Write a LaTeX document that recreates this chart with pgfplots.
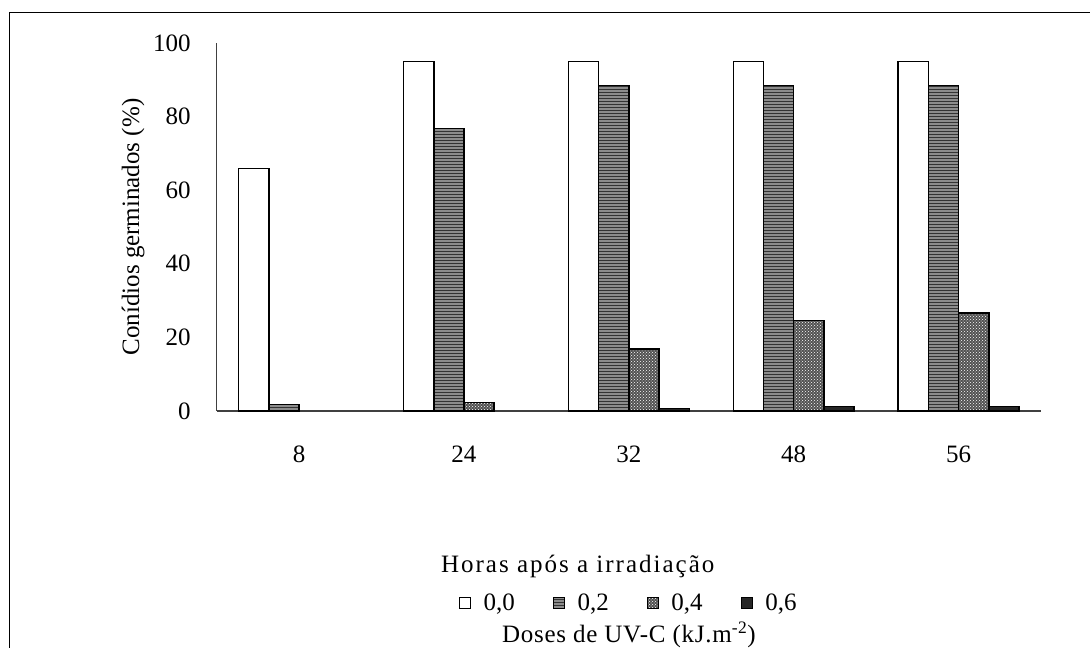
\documentclass[border=0pt]{standalone}
\usepackage{fontspec}
\setmainfont{Liberation Serif}
\usepackage{pgfplots}
\pgfplotsset{compat=1.18}
\usetikzlibrary{patterns}

\begin{document}
\begin{tikzpicture}[font=\fontsize{25}{30}\selectfont]
\useasboundingbox (0pt,0pt) rectangle (1090pt,648pt);
% outer frame of the figure
\draw[line width=1.3pt] (9.5pt,-20pt) -- (9.5pt,635.5pt) -- (1110pt,635.5pt);
\begin{axis}[
  at={(216.7pt,237pt)}, anchor=south west,
  scale only axis,
  width=824.3pt, height=368pt,
  clip=false,
  ybar=0pt, bar width=30.2pt,
  xmin=-0.5, xmax=4.5,
  ymin=0, ymax=100,
  xtick={0,1,2,3,4},
  xticklabels={8,24,32,48,56},
  ytick={0,20,40,60,80,100},
  axis x line=bottom, axis y line=left,
  axis line style={-, black!75, line width=1.1pt},
  tick style={draw=none},
  /pgf/number format/assume math mode=true,
  xticklabel style={anchor=center, inner sep=0pt, yshift=-41pt},
  yticklabel style={anchor=east, inner sep=0pt, xshift=-23.7pt},
  xlabel={\addfontfeature{LetterSpace=8}Horas após a irradiação},
  xlabel style={at={(axis description cs:0.438,0)}, anchor=center, yshift=-155pt},
  ylabel={Conídios germinados (\%)},
  ylabel style={at={(axis description cs:-0.1015,0.5)}, anchor=center},
  legend columns=4,
  legend style={draw=none, fill=none, at={(axis description cs:0.5,-0.5217)}, anchor=center,
    /tikz/every even column/.append style={column sep=36pt},
    cells={anchor=west}, inner sep=0pt},
  legend image code/.code={\draw[#1, line width=1.2pt] (0pt,-5.5pt) rectangle (11pt,5.5pt);},
  every axis plot/.append style={draw=black, line width=1.5pt},
]
% dose 0,0
\addplot[fill=white] coordinates {(0,65.9) (1,95) (2,95) (3,95) (4,95)};
% dose 0,2
\addplot[fill=black!45, postaction={pattern=horizontal lines, pattern color=black!80}]
  coordinates {(0,1.7) (1,76.7) (2,88.5) (3,88.5) (4,88.5)};
% dose 0,4
\addplot[fill=black!68, postaction={pattern=crosshatch dots, pattern color=white}]
  coordinates {(1,2.3) (2,16.8) (3,24.6) (4,26.6)};
% dose 0,6
\addplot[fill=black!85]
  coordinates {(2,0.65) (3,1.2) (4,1.2)};
\legend{{\ \,0,0},{\ \,0,2},{\ \,0,4},{\ \,0,6}}
\node[anchor=center] at (axis description cs:0.5,-0.6087)
  {\addfontfeature{LetterSpace=3}Doses de UV-C (kJ.m\textsuperscript{-2})};
\end{axis}
\end{tikzpicture}
\end{document}
